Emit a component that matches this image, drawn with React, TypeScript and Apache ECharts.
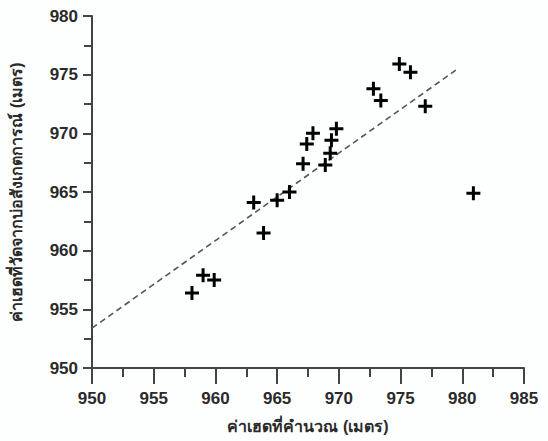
import React, { useEffect, useRef } from "react";
import * as echarts from "echarts";

const calcHead = [958.1, 959.0, 959.9, 963.9, 963.1, 965.0, 966.0, 967.1, 967.4, 967.9, 969.8, 969.4, 969.3, 968.9, 972.8, 973.4, 974.9, 975.8, 977.0, 980.9];
const obsHead = [956.4, 957.9, 957.5, 961.5, 964.1, 964.3, 965.0, 967.4, 969.1, 970.0, 970.4, 969.4, 968.3, 967.3, 973.8, 972.8, 975.9, 975.2, 972.3, 964.9];
const fitX = [950, 979.5];
const fitY = [953.4, 975.4];

const xName = "ค่าเฮดที่คำนวณ (เมตร)";
const yName = "ค่าเฮดที่วัดจากบ่อสังเกตการณ์ (เมตร)";

const PLUS = "path://M0,5.5H14V8.5H0Z M5.5,0H8.5V14H5.5Z";
const FONT = "'Liberation Sans', Arial, 'Noto Sans', sans-serif";
const AXIS_COLOR = "#444";
const LABEL_COLOR = "#2a2a2a";

export default function App() {
  const ref = useRef<HTMLDivElement>(null);
  useEffect(() => {
    if (!ref.current) return;
    const chart = echarts.init(ref.current, null, { renderer: "svg" });
    chart.setOption({
      animation: false,
      backgroundColor: "#fdfefe",
      grid: { left: 88, top: 16, width: 436, height: 352, containLabel: false },
      xAxis: {
        type: "value",
        min: 950,
        max: 985,
        interval: 5,
        name: xName,
        nameLocation: "middle",
        nameGap: 50,
        nameTextStyle: { fontFamily: FONT, fontSize: 16, fontWeight: "bold", color: LABEL_COLOR },
        axisLine: { show: true, lineStyle: { color: AXIS_COLOR, width: 2 } },
        axisTick: { show: true, length: 16, lineStyle: { color: AXIS_COLOR, width: 2 } },
        minorTick: { show: true, splitNumber: 2, length: 9, lineStyle: { color: AXIS_COLOR, width: 2 } },
        axisLabel: { fontFamily: FONT, fontSize: 17, fontWeight: "bold", color: LABEL_COLOR, margin: 22 },
        splitLine: { show: false },
        minorSplitLine: { show: false },
      },
      yAxis: {
        type: "value",
        min: 950,
        max: 980,
        interval: 5,
        name: yName,
        nameLocation: "middle",
        nameGap: 68,
        nameRotate: 90,
        nameTextStyle: { fontFamily: FONT, fontSize: 16, fontWeight: "bold", color: LABEL_COLOR },
        axisLine: { show: true, lineStyle: { color: AXIS_COLOR, width: 2 } },
        axisTick: { show: true, length: 9, lineStyle: { color: AXIS_COLOR, width: 2 } },
        minorTick: { show: true, splitNumber: 2, length: 8, lineStyle: { color: AXIS_COLOR, width: 2 } },
        axisLabel: { fontFamily: FONT, fontSize: 17, fontWeight: "bold", color: LABEL_COLOR, margin: 14 },
        splitLine: { show: false },
        minorSplitLine: { show: false },
      },
      series: [
        {
          type: "line",
          data: fitX.map((x, i) => [x, fitY[i]]),
          showSymbol: false,
          symbol: "none",
          lineStyle: { color: "#555", width: 1.6, type: [6, 4] },
          z: 1,
        },
        {
          type: "scatter",
          data: calcHead.map((x, i) => [x, obsHead[i]]),
          symbol: PLUS,
          symbolSize: 14,
          itemStyle: { color: "#000", opacity: 1 },
          z: 2,
        },
      ],
    });
    return () => chart.dispose();
  }, []);
  return <div ref={ref} style={{ position: "fixed", left: 0, top: 0, width: 548, height: 441 }} />;
}
